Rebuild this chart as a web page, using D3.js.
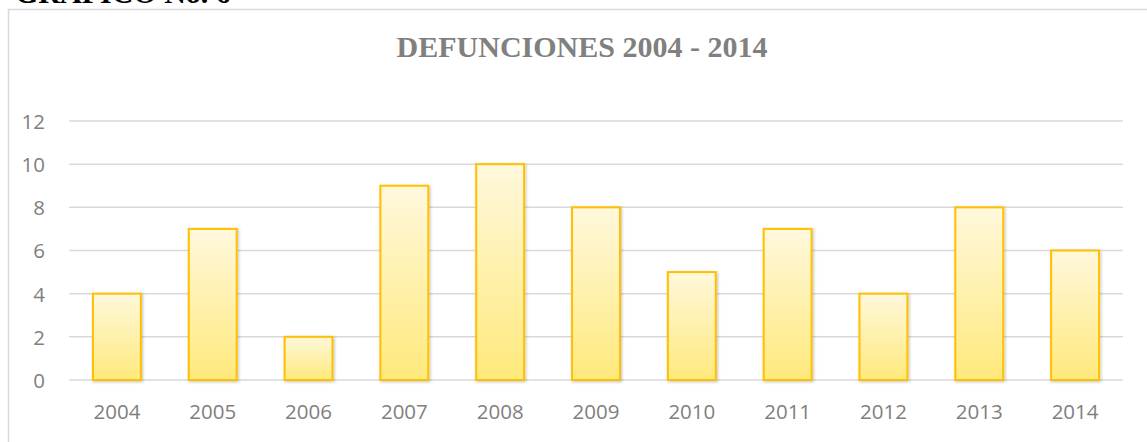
<!DOCTYPE html>
<html lang="es">
<head>
  <meta charset="UTF-8">
  <title>Defunciones 2004 - 2014</title>
  <script src="https://cdnjs.cloudflare.com/ajax/libs/d3/7.8.5/d3.min.js"></script>
  <style>
    body { margin: 0; background: #fff; }
  </style>
</head>
<body>
  <script>
var years = ["2004", "2005", "2006", "2007", "2008", "2009", "2010", "2011", "2012", "2013", "2014"];
var deaths = [4, 7, 2, 9, 10, 8, 5, 7, 4, 8, 6];
var yTicks = [0, 2, 4, 6, 8, 10, 12];

var width = 1147, height = 442;
var plot = {left: 69, right: 1123, top: 121, bottom: 380};

var svg = d3.select("body").append("svg")
    .attr("width", width)
    .attr("height", height);

var defs = svg.append("defs");
var grad = defs.append("linearGradient")
    .attr("id", "barFill")
    .attr("x1", 0).attr("y1", 0).attr("x2", 0).attr("y2", 1);
grad.append("stop").attr("offset", "0%").attr("stop-color", "#fff8dc");
grad.append("stop").attr("offset", "100%").attr("stop-color", "#ffe97c");

var shadow = defs.append("filter").attr("id", "shadow")
    .attr("x", "-20%").attr("y", "-20%").attr("width", "140%").attr("height", "140%");
shadow.append("feDropShadow")
    .attr("dx", 1).attr("dy", 1).attr("stdDeviation", 1.5)
    .attr("flood-color", "#000").attr("flood-opacity", 0.25);

// caption above the chart box (cut off by the page edge, as in the source)
svg.append("text")
    .attr("x", 15).attr("y", 3)
    .style("font-family", "'Liberation Serif', 'Times New Roman', serif")
    .style("font-weight", "bold")
    .style("font-size", "30px")
    .style("fill", "#000")
    .text("GRAFICO No. 6");

// chart frame (left + top edges visible)
svg.append("path")
    .attr("d", "M8.5," + height + "V9.5H" + width)
    .attr("fill", "none")
    .attr("stroke", "#d9d9d9")
    .attr("stroke-width", 1.5);

var x = d3.scaleBand()
    .domain(years)
    .range([plot.left, plot.right])
    .paddingInner(0.5)
    .paddingOuter(0.25);

var y = d3.scaleLinear()
    .domain([0, 12])
    .range([plot.bottom, plot.top]);

// gridlines
svg.append("g")
  .selectAll("line")
    .data(yTicks)
  .enter().append("line")
    .attr("x1", plot.left)
    .attr("x2", plot.right)
    .attr("y1", function(d) { return y(d); })
    .attr("y2", function(d) { return y(d); })
    .attr("stroke", "#d9d9d9")
    .attr("stroke-width", 1.5);

// y axis labels
var yAxis = svg.append("g")
    .attr("transform", "translate(" + (plot.left - 24) + ",0)")
    .call(d3.axisLeft(y).tickValues(yTicks).tickSize(0).tickPadding(0));
yAxis.select(".domain").remove();
yAxis.selectAll("text")
    .attr("dy", "0.36em")
    .style("font-family", "'Open Sans', sans-serif")
    .style("font-size", "20.5px")
    .style("fill", "#7f7f7f");

// x axis labels
var xAxis = svg.append("g")
    .attr("transform", "translate(0," + plot.bottom + ")")
    .call(d3.axisBottom(x).tickSize(0).tickPadding(0));
xAxis.select(".domain").remove();
xAxis.selectAll("text")
    .attr("y", 39)
    .attr("dy", 0)
    .style("font-family", "'Open Sans', sans-serif")
    .style("font-size", "20.5px")
    .style("fill", "#7f7f7f");

// bars
svg.append("g")
  .selectAll("rect")
    .data(deaths)
  .enter().append("rect")
    .attr("x", function(d, i) { return x(years[i]); })
    .attr("y", function(d) { return y(d); })
    .attr("width", x.bandwidth())
    .attr("height", function(d) { return y(0) - y(d); })
    .attr("fill", "url(#barFill)")
    .attr("stroke", "#ffc000")
    .attr("stroke-width", 2)
    .attr("filter", "url(#shadow)");

// title
svg.append("text")
    .attr("x", 582)
    .attr("y", 57)
    .attr("text-anchor", "middle")
    .style("font-family", "'Liberation Serif', 'Times New Roman', serif")
    .style("font-weight", "bold")
    .style("font-size", "30px")
    .style("fill", "#808080")
    .text("DEFUNCIONES 2004 - 2014");
  </script>
</body>
</html>
